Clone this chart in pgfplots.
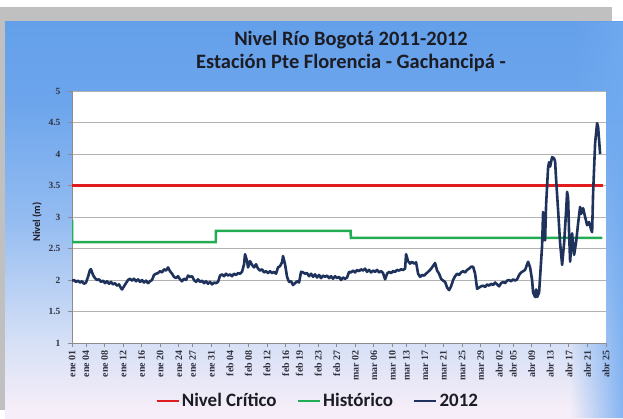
\documentclass[border=0pt]{standalone}
\usepackage{fontspec}
\setmainfont{Carlito}
\newfontfamily\tickfont{Liberation Serif}
\usepackage{pgfplots}
\usepackage{pgfplotstable}
\pgfplotsset{compat=1.18}
\usetikzlibrary{fadings}

\definecolor{framegray}{RGB}{192,192,192}
\definecolor{topb}{RGB}{100,160,234}
\definecolor{upb}{RGB}{108,165,236}
\definecolor{midb}{RGB}{148,188,241}
\definecolor{lightb}{RGB}{214,224,246}
\definecolor{pinkw}{RGB}{246,238,248}
\definecolor{rightb}{RGB}{112,170,240}
\definecolor{critred}{RGB}{224,28,30}
\definecolor{histgreen}{RGB}{34,172,84}
\definecolor{navy}{RGB}{30,50,92}
\definecolor{gridgray}{RGB}{178,178,178}
\definecolor{axisgray}{RGB}{140,140,140}
\definecolor{ticktext}{RGB}{50,50,62}
\definecolor{titletext}{RGB}{28,28,36}

\pgfdeclareverticalshading{panel}{100bp}{color(0bp)=(pinkw); color(26bp)=(pinkw);
  color(34.5bp)=(lightb); color(50bp)=(midb); color(65bp)=(upb); color(75bp)=(topb); color(100bp)=(topb)}
\tikzfading[name=fadeR, left color=transparent!100, right color=transparent!0]

% Nivel 2012 (m), dia contado desde el 1 de enero
\pgfplotstableread{
day level
0.00 1.99
0.43 2.00
0.86 1.97
1.29 1.99
1.72 1.96
2.15 1.98
2.58 1.94
3.02 1.96
3.45 2.05
3.88 2.16
4.09 2.17
4.52 2.08
4.95 2.03
5.38 2.00
5.82 2.01
6.25 1.97
6.68 1.99
7.11 1.95
7.54 1.98
7.97 1.94
8.40 1.97
8.83 1.93
9.26 1.95
9.69 1.91
10.12 1.93
10.55 1.87
10.77 1.85
11.20 1.90
11.63 1.95
12.06 2.00
12.49 2.02
12.92 1.99
13.35 2.02
13.79 1.98
14.22 2.01
14.65 1.97
15.08 2.00
15.51 1.96
15.94 1.99
16.37 1.95
16.80 1.98
17.23 2.00
17.66 2.08
18.09 2.10
18.52 2.11
18.96 2.14
19.39 2.12
19.82 2.17
20.25 2.15
20.68 2.20
21.11 2.14
21.54 2.10
21.97 2.05
22.40 2.03
22.83 2.06
23.26 2.01
23.69 1.98
24.12 2.02
24.56 2.00
24.99 2.07
25.42 2.05
25.85 2.06
26.28 2.00
26.71 1.97
27.14 2.01
27.57 1.97
28.00 1.99
28.43 1.95
28.86 1.98
29.29 1.94
29.73 1.97
30.16 1.93
30.59 1.96
31.02 1.95
31.45 1.97
31.88 2.07
32.31 2.09
32.74 2.06
33.17 2.10
33.60 2.07
34.03 2.09
34.46 2.06
34.89 2.10
35.33 2.08
35.76 2.11
36.19 2.10
36.62 2.13
37.05 2.25
37.26 2.41
37.70 2.30
37.91 2.20
38.34 2.30
38.77 2.24
39.20 2.20
39.63 2.25
40.06 2.18
40.50 2.15
40.93 2.17
41.36 2.12
41.79 2.14
42.22 2.11
42.65 2.14
43.08 2.11
43.51 2.13
43.94 2.10
44.37 2.20
44.80 2.22
45.23 2.28
45.45 2.38
45.88 2.25
46.31 2.05
46.74 1.97
47.17 1.98
47.60 1.92
48.03 1.95
48.47 1.98
48.90 1.96
49.33 2.13
49.76 2.12
50.19 2.10
50.62 2.11
51.05 2.06
51.48 2.10
51.91 2.05
52.34 2.09
52.77 2.04
53.20 2.08
53.63 2.03
54.07 2.07
54.50 2.05
54.93 2.07
55.36 2.03
55.79 2.06
56.22 2.02
56.65 2.06
57.08 2.03
57.51 2.05
57.94 2.00
58.37 2.04
58.80 2.02
59.24 2.04
59.67 2.13
60.10 2.12
60.53 2.15
60.96 2.12
61.39 2.16
61.82 2.14
62.25 2.17
62.68 2.15
63.11 2.18
63.54 2.13
63.97 2.16
64.41 2.12
64.84 2.15
65.27 2.13
65.70 2.16
66.13 2.12
66.56 2.14
66.99 2.11
67.42 2.01
67.85 2.10
68.28 2.13
68.71 2.11
69.14 2.14
69.58 2.13
70.01 2.16
70.44 2.15
70.87 2.17
71.30 2.16
71.73 2.18
71.94 2.41
72.37 2.30
72.81 2.26
73.24 2.29
73.67 2.26
74.10 2.28
74.53 2.10
74.96 2.05
75.39 2.08
75.82 2.07
76.25 2.10
76.68 2.13
77.11 2.16
77.54 2.20
78.19 2.27
78.62 2.15
79.05 2.10
79.48 2.02
79.91 1.99
80.34 1.97
80.78 1.88
81.21 1.84
81.64 1.90
82.07 2.00
82.50 2.06
82.93 2.10
83.36 2.08
83.79 2.12
84.22 2.14
84.65 2.12
85.08 2.16
85.51 2.18
85.95 2.21
86.38 2.21
86.81 2.10
87.24 1.86
87.67 1.88
88.10 1.90
88.53 1.91
88.96 1.89
89.39 1.93
89.82 1.91
90.25 1.94
90.68 1.92
91.12 1.96
91.55 1.93
91.98 1.90
92.41 1.95
92.84 1.97
93.27 1.95
93.70 1.99
94.13 2.00
94.56 1.98
94.99 2.01
95.42 1.99
95.85 2.01
96.29 2.08
96.72 2.12
97.15 2.14
97.58 2.16
98.01 2.25
98.22 2.29
98.65 2.20
99.08 2.00
99.30 1.80
99.73 1.73
99.95 1.85
100.16 1.73
100.59 1.80
101.02 2.30
101.24 2.55
101.45 3.08
101.67 2.65
101.88 2.63
102.10 3.20
102.53 3.79
102.74 3.87
102.96 3.80
103.39 3.95
103.82 3.93
104.04 3.88
104.25 3.60
104.68 3.11
105.11 2.59
105.55 2.24
105.98 2.59
106.41 3.10
106.62 3.40
106.84 3.30
107.05 2.74
107.27 2.29
107.70 2.74
108.13 2.40
108.56 2.60
108.99 2.90
109.42 3.16
109.63 3.05
110.07 3.14
110.50 3.00
110.93 2.87
111.36 2.92
111.79 2.80
112.01 2.76
112.22 3.38
112.65 4.17
113.08 4.49
113.30 4.43
113.73 4.00
}\levels

\begin{document}
\begin{tikzpicture}[x=1bp,y=1bp]
\useasboundingbox (0,0) rectangle (623,418);
\fill[white] (0,0) rectangle (623,418);
\fill[framegray] (0,8) rectangle (612,411);
\shade[shading=panel] (5,0) rectangle (623,396);
\fill[rightb, opacity=0.85, path fading=fadeR] (570,0) rectangle (623,396);

\node[font=\bfseries\fontsize{20.5}{22}\selectfont, text=titletext] at (351,378) {Nivel Río Bogotá 2011-2012};
\node[font=\bfseries\fontsize{20.5}{22}\selectfont, text=titletext] at (351,355) {Estación Pte Florencia - Gachancipá -};

\begin{axis}[
    at={(72bp,75bp)}, anchor=south west,
    scale only axis,
    width=534bp, height=252bp,
    xmin=0, xmax=115,
    ymin=1, ymax=5,
    ytick={1,1.5,...,5},
    xtick={0,3,7,11,15,19,23,26,30,34,38,42,46,49,53,57,61,65,69,72,76,80,84,88,92,95,99,103,107,111,115},
    xticklabels={ene 01, ene 04, ene 08, ene 12, ene 16, ene 20, ene 24, ene 27, ene 31,
        feb 04, feb 08, feb 12, feb 16, feb 19, feb 23, feb 27,
        mar 02, mar 06, mar 10, mar 13, mar 17, mar 21, mar 25, mar 29,
        abr 02, abr 05, abr 09, abr 13, abr 17, abr 21, abr 25},
    /pgf/number format/assume math mode=true,
    xticklabel style={rotate=90, anchor=east, font=\tickfont\bfseries\fontsize{10}{12}\selectfont, text=ticktext},
    yticklabel style={font=\tickfont\bfseries\fontsize{9.5}{11}\selectfont, text=ticktext, xshift=-4bp},
    axis lines*=left,
    axis line style={draw=axisgray, line width=0.8bp},
    tick style={draw=axisgray, line width=0.8bp},
    tick align=outside,
    major tick length=4bp,
    axis background/.style={fill=white},
    ymajorgrids,
    grid style={draw=gridgray, line width=1bp},
    ylabel={Nivel (m)},
    ylabel style={at={(axis description cs:-0.0655,0.48)}, anchor=center, font=\bfseries\fontsize{10.5}{12}\selectfont, text=titletext},
    legend columns=-1,
    legend style={draw=none, fill=none, at={(axis description cs:0.46,-0.23)}, anchor=center,
        font=\bfseries\fontsize{19}{21}\selectfont, text=titletext,
        /tikz/every even column/.append style={column sep=18bp}},
    legend image code/.code={\draw[#1] (0bp,0bp) -- (22bp,0bp);},
]
\addplot[critred, line width=2.5bp] coordinates {(0,3.5) (114.3,3.5)};
\addlegendentry{Nivel Crítico}
\addplot[histgreen, line width=2.5bp] coordinates {(0,2.95) (0.05,2.6) (30.95,2.6) (31.0,2.78) (60.0,2.78) (60.05,2.67) (114.2,2.67)};
\addlegendentry{Histórico}
\addplot[navy, line width=2.6bp, line join=round] table[x=day, y=level] {\levels};
\addlegendentry{2012}
\end{axis}
\end{tikzpicture}
\end{document}
